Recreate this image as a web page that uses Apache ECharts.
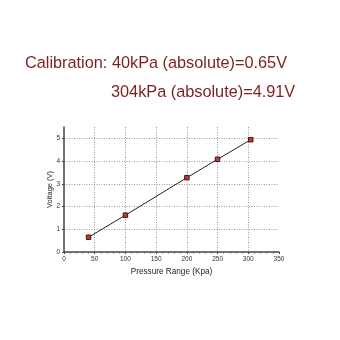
<!DOCTYPE html>
<html><head><meta charset="utf-8">
<script src="https://cdn.jsdelivr.net/npm/echarts@6/dist/echarts.min.js"></script>
<style>html,body{margin:0;padding:0;background:#fff}#c{width:340px;height:340px}</style>
</head><body><div id="c"></div>
<script>
var titleLines = ['Calibration: 40kPa (absolute)=0.65V', '304kPa (absolute)=4.91V'];
var pressure = [40, 100, 200, 250, 304];
var voltage = [0.65, 1.62, 3.27, 4.08, 4.94];
var xTitle = 'Pressure Range (Kpa)';
var yTitle = 'Voltage (V)';

var chart = echarts.init(document.getElementById('c'), null, {renderer: 'canvas'});
var pts = pressure.map(function (p, i) { return [p, voltage[i]]; });
var axisFont = {fontFamily: 'Liberation Sans, Arial', fontSize: 6.5, color: '#333'};
chart.setOption({
  animation: false,
  backgroundColor: '#fff',
  graphic: [
    {type: 'text', left: 25, top: 56, style: {text: titleLines[0], font: '16.3px "Liberation Sans", Arial', fill: '#7d1f1f'}},
    {type: 'text', left: 111, top: 85, style: {text: titleLines[1], font: '16.3px "Liberation Sans", Arial', fill: '#7d1f1f'}}
  ],
  grid: {left: 64, top: 127, width: 215, height: 125, containLabel: false},
  xAxis: {
    type: 'value', min: 0, max: 350, interval: 50,
    name: xTitle, nameLocation: 'middle', nameGap: 16, nameMoveOverlap: false,
    nameTextStyle: {fontFamily: 'Liberation Sans, Arial', fontSize: 8.2, color: '#222'},
    axisLine: {show: true, onZero: false, lineStyle: {color: '#444', width: 1.5}},
    axisTick: {show: true, length: 2, lineStyle: {color: '#444'}},
    minorTick: {show: true, splitNumber: 5, length: 1.5, lineStyle: {color: '#666'}},
    axisLabel: Object.assign({margin: 4}, axisFont),
    splitLine: {show: true, showMinLine: false, showMaxLine: false, lineStyle: {color: '#999', type: [1, 1.5], width: 1}}
  },
  yAxis: {
    type: 'value', min: 0, max: 5.5, interval: 1,
    name: yTitle, nameLocation: 'middle', nameGap: 10, nameRotate: 90, nameMoveOverlap: false,
    nameTextStyle: {fontFamily: 'Liberation Sans, Arial', fontSize: 7.5, color: '#222'},
    axisLine: {show: true, onZero: false, lineStyle: {color: '#444', width: 1.5}},
    axisTick: {show: true, length: 2, lineStyle: {color: '#444'}},
    axisLabel: Object.assign({margin: 4, showMaxLabel: false, formatter: function (v) { return v % 1 === 0 ? String(v) : ''; }}, axisFont),
    splitLine: {show: true, showMinLine: false, showMaxLine: false, lineStyle: {color: '#999', type: [1, 1.5], width: 1}}
  },
  series: [{
    type: 'line', data: pts,
    symbol: 'rect', symbolSize: 4.5, showAllSymbol: true,
    lineStyle: {color: '#222', width: 1},
    itemStyle: {color: '#b04040', borderColor: '#5a1010', borderWidth: 1}
  }]
});
</script></body></html>
